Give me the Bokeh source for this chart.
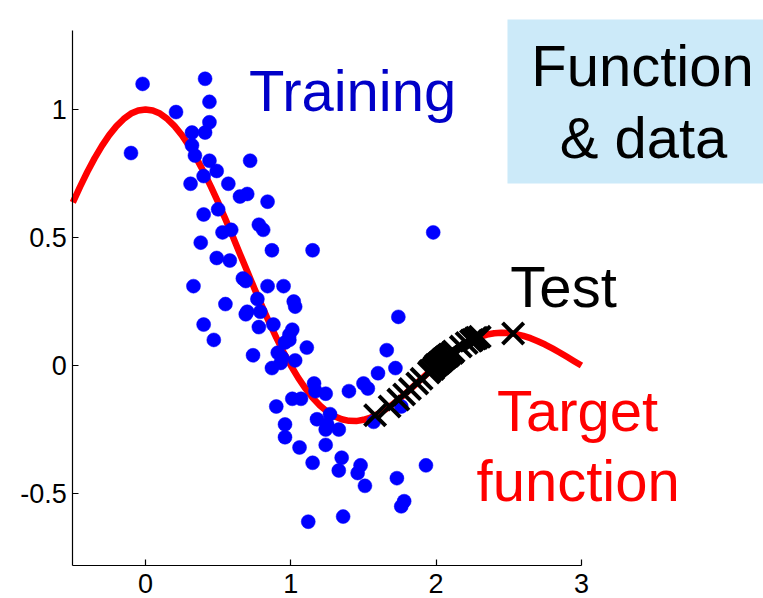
from bokeh.plotting import figure
from bokeh.models import Range1d, LinearAxis, FixedTicker, Label, BoxAnnotation
from bokeh.embed import file_html
from bokeh.resources import INLINE

# Target function
curve_x = [-0.5, -0.45, -0.4, -0.35, -0.3, -0.25, -0.2, -0.15, -0.1, -0.05, 0.0, 0.05, 0.1,
           0.15, 0.2, 0.25, 0.3, 0.35, 0.4, 0.45, 0.5, 0.55, 0.6, 0.65, 0.7, 0.75, 0.8,
           0.85, 0.9, 0.95, 1.0, 1.05, 1.1, 1.15, 1.2, 1.25, 1.3, 1.35, 1.4, 1.45, 1.5,
           1.55, 1.6, 1.65, 1.7, 1.75, 1.8, 1.85, 1.9, 1.95, 2.0, 2.05, 2.1, 2.15, 2.2,
           2.25, 2.3, 2.35, 2.4, 2.45, 2.5, 2.55, 2.6, 2.65, 2.7, 2.75, 2.8, 2.85, 2.9,
           2.95, 3.0]
curve_y = [0.637, 0.699, 0.757, 0.810, 0.858, 0.900, 0.935, 0.963, 0.984, 0.996, 1.0,
           0.996, 0.984, 0.963, 0.935, 0.900, 0.858, 0.810, 0.757, 0.699, 0.637, 0.572,
           0.505, 0.436, 0.368, 0.300, 0.234, 0.170, 0.109, 0.052, 0.0, -0.047, -0.089,
           -0.126, -0.156, -0.180, -0.198, -0.210, -0.216, -0.217, -0.212, -0.203, -0.189,
           -0.172, -0.152, -0.129, -0.104, -0.078, -0.052, -0.026, 0.0, 0.024, 0.047,
           0.067, 0.085, 0.100, 0.112, 0.121, 0.126, 0.128, 0.127, 0.123, 0.116, 0.107,
           0.095, 0.082, 0.067, 0.051, 0.034, 0.017, 0.0]

# Training samples (blue dots)
train_x = [-0.02, -0.10, 0.41, 0.21, 0.44, 0.44, 0.32, 0.41, 0.32, 0.34, 0.44, 0.72, 0.49,
           0.40, 0.31, 0.57, 0.70, 0.65, 0.84, 0.40, 0.50, 0.53, 0.59, 0.78, 0.81, 0.38,
           0.87, 1.15, 0.49, 0.58, 0.67, 0.69, 0.33, 0.84, 0.95, 0.77, 1.02, 1.03, 0.55,
           0.70, 0.69, 0.79, 0.88, 0.78, 0.40, 1.01, 0.99, 0.47, 0.99, 0.96, 0.74, 1.11,
           0.91, 0.94, 0.87, 0.93, 1.03, 1.66, 1.72, 1.60, 1.50, 1.53, 1.40, 1.16, 1.01,
           1.07, 1.17, 1.24, 0.90, 1.27, 1.18, 1.25, 1.24, 1.33, 1.57, 0.96, 0.96, 1.06,
           1.24, 1.15, 1.35, 1.33, 1.48, 1.46, 1.51, 1.12, 1.36, 1.73, 1.78, 1.76, 1.98,
           1.74, 1.76, 1.93]
train_y = [1.10, 0.83, 1.12, 0.99, 1.03, 0.95, 0.91, 0.91, 0.86, 0.82, 0.80, 0.80, 0.76,
           0.74, 0.71, 0.71, 0.67, 0.66, 0.64, 0.59, 0.61, 0.52, 0.53, 0.55, 0.53, 0.48,
           0.45, 0.45, 0.42, 0.41, 0.34, 0.33, 0.31, 0.31, 0.31, 0.26, 0.25, 0.23, 0.24,
           0.21, 0.20, 0.21, 0.16, 0.15, 0.16, 0.14, 0.12, 0.10, 0.10, 0.09, 0.04, 0.07,
           0.05, 0.03, -0.01, 0.01, 0.02, 0.06, -0.01, -0.03, -0.07, -0.09, -0.10, -0.07,
           -0.13, -0.13, -0.10, -0.11, -0.16, -0.19, -0.21, -0.23, -0.25, -0.25, -0.22,
           -0.23, -0.28, -0.32, -0.31, -0.38, -0.36, -0.41, -0.39, -0.42, -0.47, -0.61,
           -0.59, -0.44, -0.53, -0.55, 0.52, 0.19, -0.16, -0.39]

# Test samples (black crosses)
test_x = [1.58, 1.68, 1.74, 1.78, 1.82, 1.87, 1.90, 1.95, 1.96, 1.98, 1.99, 2.00, 2.01,
          2.02, 2.03, 2.04, 2.05, 2.06, 2.07, 2.08, 2.09, 2.11, 2.12, 2.17, 2.21, 2.24,
          2.25, 2.27, 2.28, 2.30, 2.53]
test_y = [-0.194, -0.160, -0.133, -0.113, -0.092, -0.070, -0.052, -0.027, -0.020, -0.013,
          -0.005, 0.002, 0.005, 0.010, 0.015, 0.020, 0.025, 0.029, 0.034, 0.037, 0.043,
          0.049, 0.055, 0.074, 0.088, 0.097, 0.100, 0.106, 0.108, 0.112, 0.125]

x_ticks = [0, 1, 2, 3]
x_tick_labels = ["0", "1", "2", "3"]
y_ticks = [-0.5, 0, 0.5, 1]
y_tick_labels = ["-0.5", "0", "0.5", "1"]

FONT = "Liberation Sans"

p = figure(width=763, height=598, output_backend="svg", toolbar_location=None,
           x_range=Range1d(-0.998, 4.253), y_range=Range1d(-0.910, 1.4258),
           x_axis_location=None, y_axis_location=None, min_border=0)
p.outline_line_color = None
p.grid.visible = False
p.background_fill_color = "white"

# Axes
xaxis = LinearAxis(fixed_location=-0.78125, bounds=(-0.5, 3),
                   ticker=FixedTicker(ticks=x_ticks),
                   major_label_overrides={t: l for t, l in zip(x_ticks, x_tick_labels)})
yaxis = LinearAxis(fixed_location=-0.5, bounds=(-0.78125, 1.309),
                   ticker=FixedTicker(ticks=y_ticks),
                   major_label_overrides={t: l for t, l in zip(y_ticks, y_tick_labels)})
for ax in (xaxis, yaxis):
    ax.major_tick_in = 6
    ax.major_tick_out = 0
    ax.minor_tick_in = 0
    ax.minor_tick_out = 0
    ax.axis_line_color = "black"
    ax.axis_line_width = 1.2
    ax.major_tick_line_color = "black"
    ax.major_tick_line_width = 1.2
    ax.major_label_text_font = FONT
    ax.major_label_text_font_size = "27px"
    ax.major_label_text_color = "black"
xaxis.major_label_standoff = 8
yaxis.major_label_standoff = 6
p.add_layout(xaxis, "below")
p.add_layout(yaxis, "left")

# Box for title
box = BoxAnnotation(left=2.491, right=4.30, top=1.352, bottom=0.711,
                    fill_color="#CCEAF9", fill_alpha=1.0, line_color=None, level="underlay")
p.add_layout(box)

# Data
p.line(curve_x, curve_y, line_color="#FF0000", line_width=6.5, line_join="round")
p.scatter(train_x, train_y, marker="circle", size=14, fill_color="#0000FF",
          line_color="#0000FF", line_width=0.5)
p.scatter(test_x, test_y, marker="x", size=30, line_color="black", line_width=4)

# Texts
def lab(txt, x, y, color):
    p.add_layout(Label(x=x, y=y, text=txt, text_font=FONT, text_font_size="58px",
                       text_color=color, text_align="center", text_baseline="alphabetic"))

lab("Training", 1.425, 1.074, "#0000C8")
lab("Function", 3.42, 1.172, "black")
lab("& data", 3.427, 0.89, "black")
lab("Test", 2.877, 0.308, "black")
lab("Target", 2.973, -0.176, "#FF0000")
lab("function", 2.977, -0.449, "#FF0000")

open("out.html", "w").write(file_html(p, INLINE))
